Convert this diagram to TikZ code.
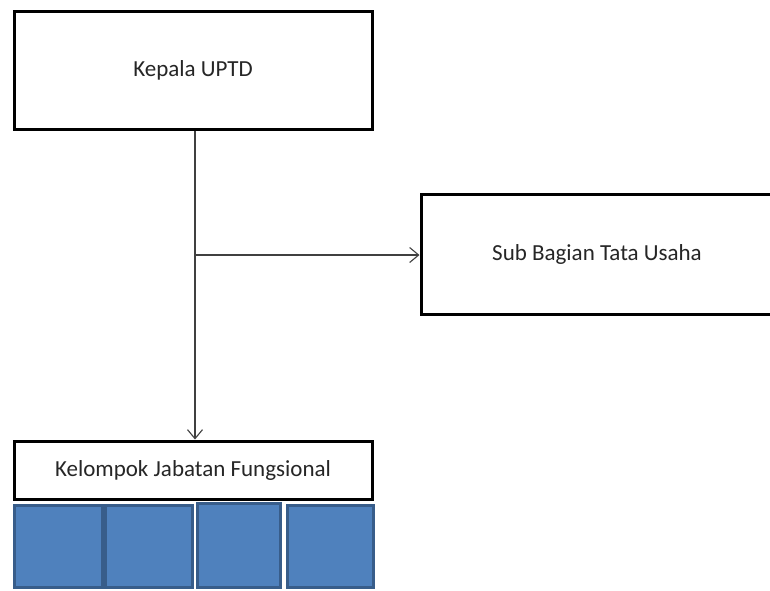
\documentclass[tikz,border=0pt]{standalone}
\usepackage{fontspec}
\setmainfont{Carlito}
\usetikzlibrary{arrows.meta}
\definecolor{cellfill}{HTML}{4F81BD}
\definecolor{celldraw}{HTML}{385D8A}
\tikzset{
  box/.style={draw=black, line width=3pt, fill=white, inner sep=0pt, text=black!85, font=\fontsize{23}{27}\selectfont},
  conn/.style={draw=black!75, line width=1.1pt, -{Straight Barb[length=9pt,width=15pt,line width=1.1pt]}},
  cell/.style={draw=celldraw, fill=cellfill, line width=3pt, inner sep=0pt}
}
\begin{document}
\begin{tikzpicture}[x=1pt,y=-1pt]
\useasboundingbox (0,0) rectangle (770,590);
\clip (0,0) rectangle (770,590);
\node[box, minimum width=358pt, minimum height=118pt] (kepala) at (193,70) {Kepala UPTD};
\node[box, minimum width=352pt, minimum height=120pt] (sub) at (597,254) {Sub Bagian Tata Usaha};
\node[box, minimum width=358pt, minimum height=58pt] (kelompok) at (193,470) {Kelompok Jabatan Fungsional};
\node[cell, minimum width=88pt, minimum height=82pt] (c1) at (58,546) {};
\node[cell, minimum width=87pt, minimum height=82pt] (c2) at (148.5,546) {};
\node[cell, minimum width=83pt, minimum height=84pt] (c3) at (239,545) {};
\node[cell, minimum width=86pt, minimum height=82pt] (c4) at (330,546) {};
\coordinate (j) at (195,255);
\draw[conn] (kepala.south -| j) -- (kelompok.north -| j);
\draw[conn] (j) -- (sub.west |- j);
\end{tikzpicture}
\end{document}
